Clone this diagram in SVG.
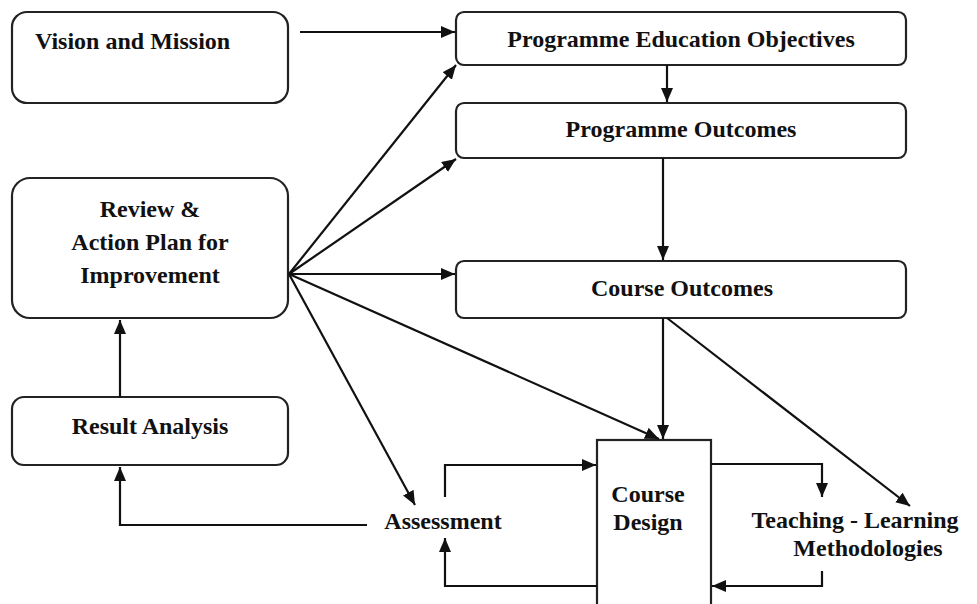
<svg xmlns="http://www.w3.org/2000/svg" width="977" height="604" viewBox="0 0 977 604">
<defs>
<marker id="ah" markerUnits="userSpaceOnUse" markerWidth="16" markerHeight="14" refX="14" refY="6" orient="auto">
<path d="M0,0 L14,6 L0,12 z" fill="#111"/>
</marker>
<style>
.box{fill:#fff;stroke:#222;stroke-width:2.2}
.t{font-family:"Liberation Serif","Times New Roman",serif;font-weight:bold;font-size:24px;fill:#111}
.c{text-anchor:middle}
.ln{fill:none;stroke:#111;stroke-width:2.2;marker-end:url(#ah)}
</style>
</defs>
<rect width="977" height="604" fill="#fff"/>
<g id="vision"><rect class="box" x="12" y="12" width="276" height="91" rx="15"/><text class="t" x="35" y="49">Vision and Mission</text></g>
<g id="review"><rect class="box" x="12" y="178" width="276" height="140" rx="18"/>
<text class="t c" x="150" y="217">Review &amp;</text><text class="t c" x="150" y="250">Action Plan for</text><text class="t c" x="150" y="283">Improvement</text></g>
<g id="result"><rect class="box" x="12" y="397" width="276" height="68" rx="12"/><text class="t c" x="150" y="434">Result Analysis</text></g>
<g id="peo"><rect class="box" x="456" y="12" width="450" height="53" rx="8"/><text class="t c" x="681" y="47">Programme Education Objectives</text></g>
<g id="po"><rect class="box" x="456" y="103" width="450" height="55" rx="8"/><text class="t c" x="681" y="137">Programme Outcomes</text></g>
<g id="co"><rect class="box" x="456" y="261" width="450" height="57" rx="8"/><text class="t c" x="682" y="296">Course Outcomes</text></g>
<g id="design"><rect class="box" x="597" y="440" width="114" height="175"/><text class="t c" x="648" y="502">Course</text><text class="t c" x="648" y="530">Design</text></g>
<g id="assessment"><text class="t c" x="443" y="529">Assessment</text></g>
<g id="teaching"><text class="t c" x="855" y="528">Teaching - Learning</text><text class="t c" x="868" y="556">Methodologies</text></g>
<g id="connectors">
<line class="ln" x1="300" y1="32" x2="455" y2="32"/>
<line class="ln" x1="289" y1="274" x2="456" y2="65"/>
<line class="ln" x1="289" y1="274" x2="456" y2="159"/>
<line class="ln" x1="289" y1="274" x2="455" y2="274"/>
<line class="ln" x1="289" y1="274" x2="659" y2="439"/>
<line class="ln" x1="289" y1="274" x2="415" y2="505"/>
<line class="ln" x1="667" y1="65" x2="667" y2="102"/>
<line class="ln" x1="663" y1="158" x2="663" y2="260"/>
<line class="ln" x1="663" y1="318" x2="663" y2="439"/>
<line class="ln" x1="667" y1="318" x2="910" y2="506"/>
<line class="ln" x1="120" y1="397" x2="120" y2="320"/>
<polyline class="ln" points="367,525 120,525 120,467"/>
<polyline class="ln" points="445,497 445,465 596,465"/>
<polyline class="ln" points="597,586 445,586 445,538"/>
<polyline class="ln" points="711,464 822,464 822,497"/>
<polyline class="ln" points="822,571 822,586 712,586"/>
</g>
</svg>
